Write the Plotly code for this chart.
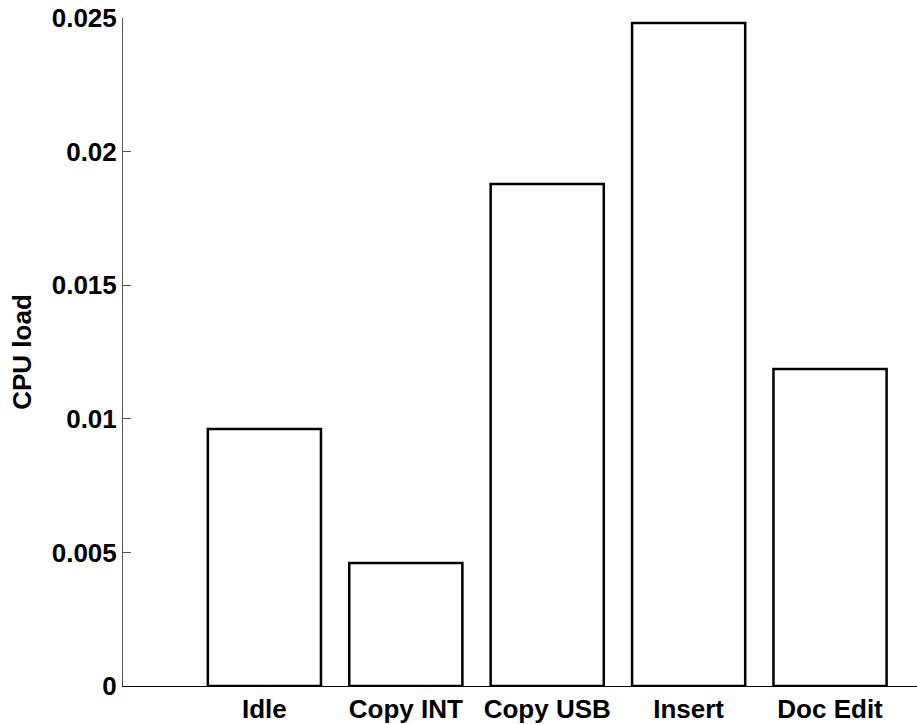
import plotly.graph_objects as go

categories = ["Idle", "Copy INT", "Copy USB", "Insert", "Doc Edit"]
cpu_load = [0.00962, 0.0046, 0.01879, 0.02481, 0.01186]
y_tick_values = [0, 0.005, 0.01, 0.015, 0.02, 0.025]
y_tick_labels = ["0", "0.005", "0.01", "0.015", "0.02", "0.025"]

positions = list(range(1, len(categories) + 1))

font_family = "Liberation Sans, Arial, Helvetica, sans-serif"
fs = 26

fig = go.Figure()
fig.add_trace(go.Bar(
    x=positions,
    y=cpu_load,
    width=0.8,
    marker=dict(color="white", line=dict(color="black", width=2.5)),
    showlegend=False,
))

fig.update_layout(
    width=917,
    height=724,
    plot_bgcolor="white",
    paper_bgcolor="white",
    margin=dict(l=123, r=0, t=18, b=38, autoexpand=False),
    font=dict(family=font_family, size=fs, color="black"),
    xaxis=dict(
        range=[0, 5.615],
        tickvals=positions,
        ticktext=categories,
        tickfont=dict(family=font_family, size=fs, weight="bold"),
        showline=True,
        linecolor="black",
        linewidth=1,
        ticks="",
        showgrid=False,
        zeroline=False,
        automargin=False,
    ),
    yaxis=dict(
        range=[0, 0.025],
        tickvals=y_tick_values,
        ticktext=y_tick_labels,
        tickfont=dict(family=font_family, size=fs, weight="bold"),
        showline=True,
        linecolor="#555555",
        linewidth=1,
        ticks="inside",
        ticklen=8,
        tickcolor="#555555",
        showgrid=False,
        zeroline=False,
        automargin=False,
        title=dict(text="CPU load", font=dict(family=font_family, size=fs, weight="bold"), standoff=12),
    ),
)

fig.write_html(
    "out.html",
    config={"displayModeBar": False},
    post_script="document.body.style.margin='0';document.body.style.overflow='hidden';",
)
